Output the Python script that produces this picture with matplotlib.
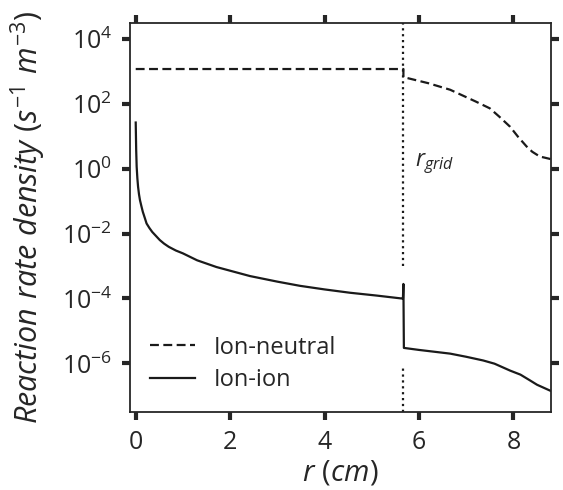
import numpy as np
import matplotlib.pyplot as plt
from matplotlib.ticker import NullLocator

plt.rcParams.update({
    'font.family': ['Open Sans', 'DejaVu Sans'],
    'font.size': 17,
    'mathtext.fontset': 'custom',
    'mathtext.rm': 'Open Sans',
    'mathtext.it': 'Open Sans:italic',
    'mathtext.bf': 'Open Sans:bold',
    'text.color': '#262626',
    'axes.labelcolor': '#262626',
    'xtick.color': '#262626',
    'ytick.color': '#262626',
})

# values
r_grid = 5.67

r_neutral = [0.0, 5.67, 5.67, 6.2, 6.66, 7.2, 7.5, 7.7, 7.93, 8.1, 8.28, 8.4, 8.56, 8.65, 8.8]
rate_neutral = [1.17e3, 1.17e3, 660, 427, 269, 117, 72, 40, 19.5, 9.5, 4.8, 3.3, 2.35, 2.2, 1.95]

r_ion = [0.0, 0.01, 0.02, 0.035, 0.05, 0.07, 0.09, 0.12, 0.15, 0.19, 0.23, 0.29, 0.35,
         0.43, 0.51, 0.6, 0.7, 0.85, 1.0, 1.3, 1.71, 2.42, 3.0, 3.48, 4.0, 4.54, 5.1,
         5.63, 5.66, 5.67, 5.68, 6.0, 6.66, 7.0, 7.36, 7.6, 7.93, 8.15, 8.35, 8.5, 8.8]
rate_ion = [26.3, 3.7, 1.15, 0.5, 0.275, 0.16, 0.107, 0.07, 0.0468, 0.031, 0.0204,
            0.0148, 0.0112, 8.4e-3, 6.3e-3, 4.9e-3, 3.9e-3, 3.0e-3, 2.45e-3, 1.5e-3,
            9.3e-4, 4.9e-4, 3.3e-4, 2.45e-4, 1.9e-4, 1.5e-4, 1.23e-4, 1.0e-4, 1.0e-4,
            2.8e-4, 3.0e-6, 2.6e-6, 2.0e-6, 1.6e-6, 1.23e-6, 9.8e-7, 6.0e-7, 4.5e-7,
            3.0e-7, 2.2e-7, 1.4e-7]

x_ticks = [0, 2, 4, 6, 8]
y_ticks = [1e4, 1e2, 1e0, 1e-2, 1e-4, 1e-6]

fig = plt.figure(figsize=(5.63, 4.9), dpi=100)
ax1 = fig.add_axes([0.231, 0.159, 0.748, 0.795])

ax1.plot(r_neutral, rate_neutral, color='#1a1a1a', linestyle=(0, (4, 2)), linewidth=1.6, label='Ion-neutral')
ax1.plot(r_ion, rate_ion, color='#1a1a1a', linestyle='-', linewidth=1.6, label='Ion-ion')

ylo, yhi = 10**-7.5, 10**4.5
ax1.vlines(x=r_grid, ymin=1e-3, ymax=yhi, color='#1a1a1a', linestyle=':', linewidth=1.6)
ax1.vlines(x=r_grid, ymin=ylo, ymax=8e-7, color='#1a1a1a', linestyle=':', linewidth=1.6)

ax1.text(5.92, 1.5, r'$r_{grid}$', fontsize=16.5, va='center', ha='left')

ax1.set_yscale('log')
ax1.set_xlim(-0.12, 8.8)
ax1.set_ylim(ylo, yhi)
ax1.set_xticks(x_ticks)
ax1.set_yticks(y_ticks)
ax1.yaxis.set_minor_locator(NullLocator())

ax1.tick_params(which='major', direction='out', length=6, width=3, pad=7,
                top=True, right=True, labelsize=18)
for spine in ax1.spines.values():
    spine.set_linewidth(1.3)
    spine.set_color('#262626')

ax1.set_xlabel(r'$r\ (cm)$', fontsize=21)
ax1.set_ylabel(r'$Reaction\ rate\ density\ (s^{-1}\ m^{-3})$', fontsize=22)
ax1.xaxis.set_label_coords(0.5, -0.12)
ax1.yaxis.set_label_coords(-0.195, 0.5)

ax1.legend(loc='lower left', frameon=False, fontsize=17, handlelength=1.9,
           labelspacing=0.35, borderaxespad=0.45)

fig.savefig('out.png', dpi=100)
